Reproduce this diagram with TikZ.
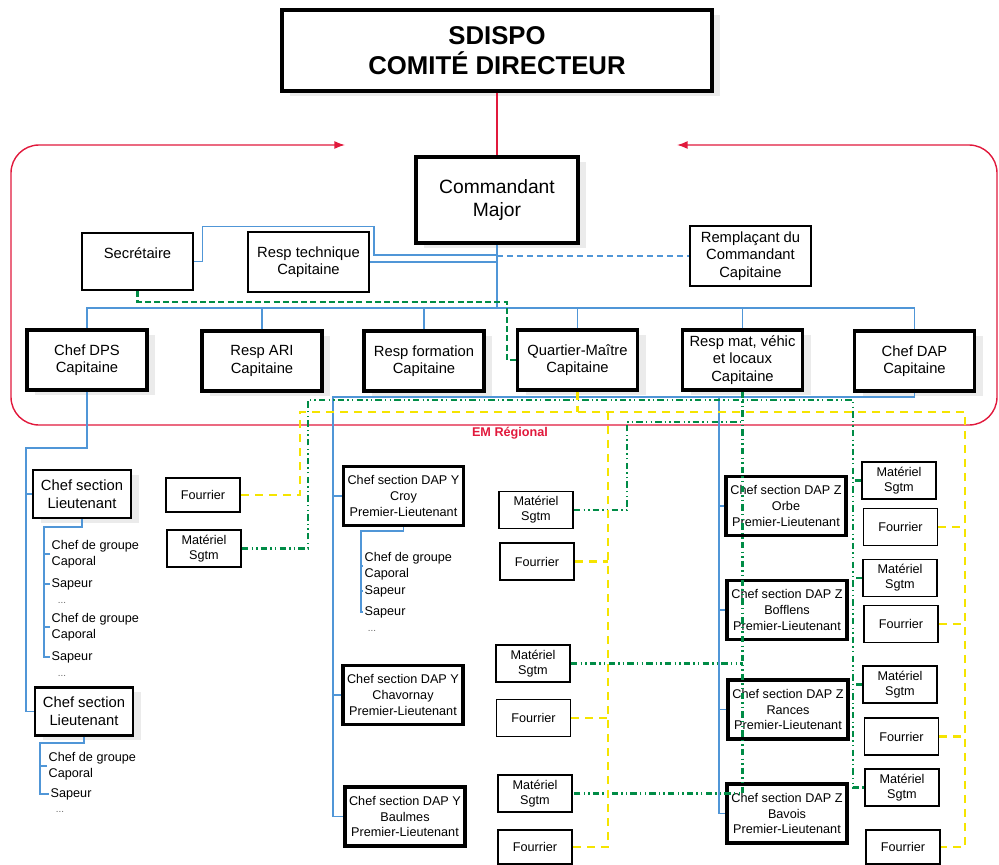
\documentclass[tikz,border=0pt]{standalone}
\usepackage{fontspec}
\setmainfont{Liberation Sans}
\usepackage{tikz}
\usetikzlibrary{arrows.meta,shadows}
\tikzset{>=Latex}
\definecolor{orgblue}{RGB}{80,150,215}
\definecolor{orgred}{RGB}{225,25,60}
\definecolor{orggreen}{RGB}{0,140,70}
\definecolor{orgyellow}{RGB}{245,228,0}
\tikzset{
  box/.style={draw, fill=white, align=center, inner sep=1pt, font=\fontsize{10.5}{12.5}\selectfont},
  shade/.style={drop shadow={fill=black!8, opacity=1, shadow xshift=2mm, shadow yshift=-1.2mm}},
  chief/.style={box, shade, line width=2.4pt, minimum width=30mm, minimum height=15mm},
  section/.style={box, shade, line width=2pt, minimum width=24.5mm, minimum height=12mm},
  dapbox/.style={box, line width=2.2pt, minimum width=30mm, minimum height=14.75mm, font=\fontsize{9}{11.3}\selectfont},
  small/.style={box, line width=1.3pt, minimum width=18.5mm, minimum height=9.25mm, font=\fontsize{9}{10.6}\selectfont},
  plain/.style={box, line width=1.5pt, minimum width=30.25mm, minimum height=15mm},
  item/.style={anchor=west, align=left, inner sep=1pt, font=\fontsize{9}{11.3}\selectfont},
  dots/.style={inner sep=0pt, font=\fontsize{7}{7}\selectfont, text=black!60},
  blueline/.style={draw=orgblue, line width=0.8pt},
  redline/.style={draw=orgred, line width=1pt},
  greendd/.style={draw=orggreen, line width=1.6pt, dash pattern=on 1.6mm off 0.8mm on 0.35mm off 0.8mm on 0.35mm off 0.8mm},
  greendash/.style={draw=orggreen, line width=1.5pt, dash pattern=on 1.5mm off 0.8mm},
  yellowd/.style={draw=orgyellow, line width=1.6pt, dash pattern=on 2mm off 1.5mm}
}
\begin{document}
\begin{tikzpicture}[x=0.25mm,y=-0.25mm]
\useasboundingbox (0,0) rectangle (999,865);

\node[box, shade, line width=2.2pt, minimum width=107.5mm, minimum height=20.25mm,
  font=\fontsize{18.3}{21.3}\selectfont\bfseries] (sdispo) at (497,50.5) {SDISPO\\COMITÉ DIRECTEUR};
\node[box, shade, line width=2.8pt, minimum width=40.5mm, minimum height=21.5mm,
  font=\fontsize{13.7}{17}\selectfont] (cmd) at (497,200) {Commandant\\Major};

\node[plain, line width=1.3pt, minimum width=27.75mm, minimum height=14.25mm] (sec) at (137.5,261.5) {Secrétaire\\\mbox{}};
\node[plain, line width=1.8pt] (tech) at (308.5,262) {Resp technique\\Capitaine};
\node[plain, line width=1.3pt] (remp) at (750.5,256) {Remplaçant du\\Commandant\\Capitaine};

\node[chief] (dps) at (87,360) {Chef DPS\\Capitaine};
\node[chief] (ari) at (262,361) {Resp ARI\\Capitaine};
\node[chief] (form) at (424,361) {Resp formation\\Capitaine};
\node[chief] (qm) at (577.5,360) {Quartier-Maître\\Capitaine};
\node[chief] (mat) at (742.5,360) {Resp mat, véhic\\et locaux\\Capitaine};
\node[chief] (dap) at (914.5,361) {Chef DAP\\Capitaine};

\node[text=orgred, font=\fontsize{9}{10}\selectfont\bfseries] (em) at (510,433) {EM Régional};

\node[section] (cs1) at (82,494) {Chef section\\Lieutenant};
\node[item] (g1) at (50,554) {Chef de groupe\\Caporal};
\node[item] (s1) at (50,584) {Sapeur};
\node[dots] (d1) at (62,603) {...};
\node[item] (g2) at (50,627) {Chef de groupe\\Caporal};
\node[item] (s2) at (50,657) {Sapeur};
\node[dots] (d2) at (62,676) {...};
\node[section] (cs2) at (84,711.5) {Chef section\\Lieutenant};
\node[item] (g3) at (47,766) {Chef de groupe\\Caporal};
\node[item] (s3) at (49,794) {Sapeur};
\node[dots] (d3) at (60,812) {...};

\node[small, minimum height=8.5mm] (fourl) at (203,495) {Fourrier};
\node[small] (matl) at (204,548.5) {Matériel\\Sgtm};

\node[dapbox] (croy) at (403.5,496) {Chef section DAP Y\\Croy\\Premier-Lieutenant};
\node[item] (g4) at (363,566) {Chef de groupe\\Caporal};
\node[item] (s4) at (363,591) {Sapeur};
\node[item] (s5) at (363,612) {Sapeur};
\node[dots] (d4) at (372,631) {...};
\node[dapbox] (chav) at (403,695) {Chef section DAP Y\\Chavornay\\Premier-Lieutenant};
\node[dapbox] (baulmes) at (405,816.5) {Chef section DAP Y\\Baulmes\\Premier-Lieutenant};

\node[small] (croym) at (536,510) {Matériel\\Sgtm};
\node[small] (croyf) at (537,561.5) {Fourrier};
\node[small] (chavm) at (533,663.5) {Matériel\\Sgtm};
\node[small] (chavf) at (533.5,718) {Fourrier};
\node[small] (baulmesm) at (535,793.5) {Matériel\\Sgtm};
\node[small, minimum height=8.5mm] (baulmesf) at (535,847) {Fourrier};

\node[dapbox] (orbe) at (786,506) {Chef section DAP Z\\Orbe\\Premier-Lieutenant};
\node[dapbox] (boff) at (787,610) {Chef section DAP Z\\Bofflens\\Premier-Lieutenant};
\node[dapbox] (ranc) at (788,709.5) {Chef section DAP Z\\Rances\\Premier-Lieutenant};
\node[dapbox] (bavois) at (787,813.5) {Chef section DAP Z\\Bavois\\Premier-Lieutenant};

\node[small] (orbem) at (899,480.5) {Matériel\\Sgtm};
\node[small] (orbef) at (900.5,527) {Fourrier};
\node[small] (boffm) at (900,578) {Matériel\\Sgtm};
\node[small] (bofff) at (901,624) {Fourrier};
\node[small] (rancm) at (900,684.5) {Matériel\\Sgtm};
\node[small] (rancf) at (901.5,736.5) {Fourrier};
\node[small] (bavoism) at (902,787.5) {Matériel\\Sgtm};
\node[small, minimum height=8.5mm] (bavoisf) at (903,847) {Fourrier};

\coordinate (bus) at (497,308);
\coordinate (secbend) at (374,255);
\coordinate (dpsspine) at (26,448);
\coordinate (t1) at (44,527);
\coordinate (t2) at (40,743);
\coordinate (t3) at (361,531);
\coordinate (ybus) at (333,397);
\coordinate (zbus) at (719,397);
\coordinate (gbus) at (308,400);
\coordinate (gright) at (853,400);
\coordinate (gc) at (627,422);
\coordinate (ybusl) at (300,412);
\coordinate (ybusr) at (965,412);
\coordinate (yc) at (608,412);

\draw[redline] (sdispo.south) -- (cmd.north);
\draw[redline, <->, rounded corners=7mm] (345,145) -- (11,145) -- (11,425) -- (997,425) -- (997,145) -- (677,145);

\draw[blueline] (cmd.south) -- (bus);
\draw[blueline] (dps.north) |- (bus) -| (dap.north);
\foreach \n in {ari,form,qm,mat}
  \draw[blueline] (\n.north) -- (\n.north |- bus);
\draw[blueline] (tech.east) -- (tech.east -| cmd.south);
\draw[blueline] (sec.east) -- ++(9,0) -- ++(0,-35) -| (secbend) -- (secbend -| cmd.south);
\draw[blueline, dash pattern=on 1.5mm off 1mm] (cmd.south |- remp.west) -- (remp.west);
\draw[greendash] (sec.south) |- (507,302) |- (qm.west);

\draw[blueline] (dps.south) |- (dpsspine) |- (cs2.west);
\draw[blueline] (cs1.west) -- (cs1.west -| dpsspine);
\draw[blueline] (cs1.south) |- (t1) |- (s2.west);
\foreach \n in {g1,s1,g2}
  \draw[blueline] (\n.west) -- (\n.west -| t1);
\draw[blueline] (cs2.south) |- (t2) |- (s3.west);
\draw[blueline] (g3.west) -- (g3.west -| t2);
\draw[blueline] (croy.south) |- (t3) |- (s5.west);
\foreach \n in {g4,s4}
  \draw[blueline] (\n.west) -- (\n.west -| t3);

\draw[blueline] (dap.south) |- (ybus) |- (baulmes.west);
\foreach \n in {croy,chav}
  \draw[blueline] (\n.west) -- (\n.west -| ybus);
\draw[blueline] (zbus) |- (bavois.west);
\foreach \n in {orbe,boff,ranc}
  \draw[blueline] (\n.west) -- (\n.west -| zbus);

\draw[greendd] (matl.east) -| (gbus) -- (gright) |- (bavoism.west);
\foreach \n in {orbem,boffm,rancm}
  \draw[greendd] (\n.west) -- (\n.west -| gright);
\draw[greendd] (mat.south) |- (baulmesm.east);
\draw[greendd] (chavm.east) -- (chavm.east -| mat.south);
\draw[greendd] (croym.east) -| (gc) -- (gc -| mat.south);

\draw[yellowd] (fourl.east) -| (ybusl) -- (ybusr) |- (bavoisf.east);
\foreach \n in {orbef,bofff,rancf}
  \draw[yellowd] (\n.east) -- (\n.east -| ybusr);
\draw[yellowd] (qm.south) -- (qm.south |- ybusl);
\draw[yellowd] (yc) |- (baulmesf.east);
\foreach \n in {croyf,chavf}
  \draw[yellowd] (\n.east) -- (\n.east -| yc);
\end{tikzpicture}
\end{document}
